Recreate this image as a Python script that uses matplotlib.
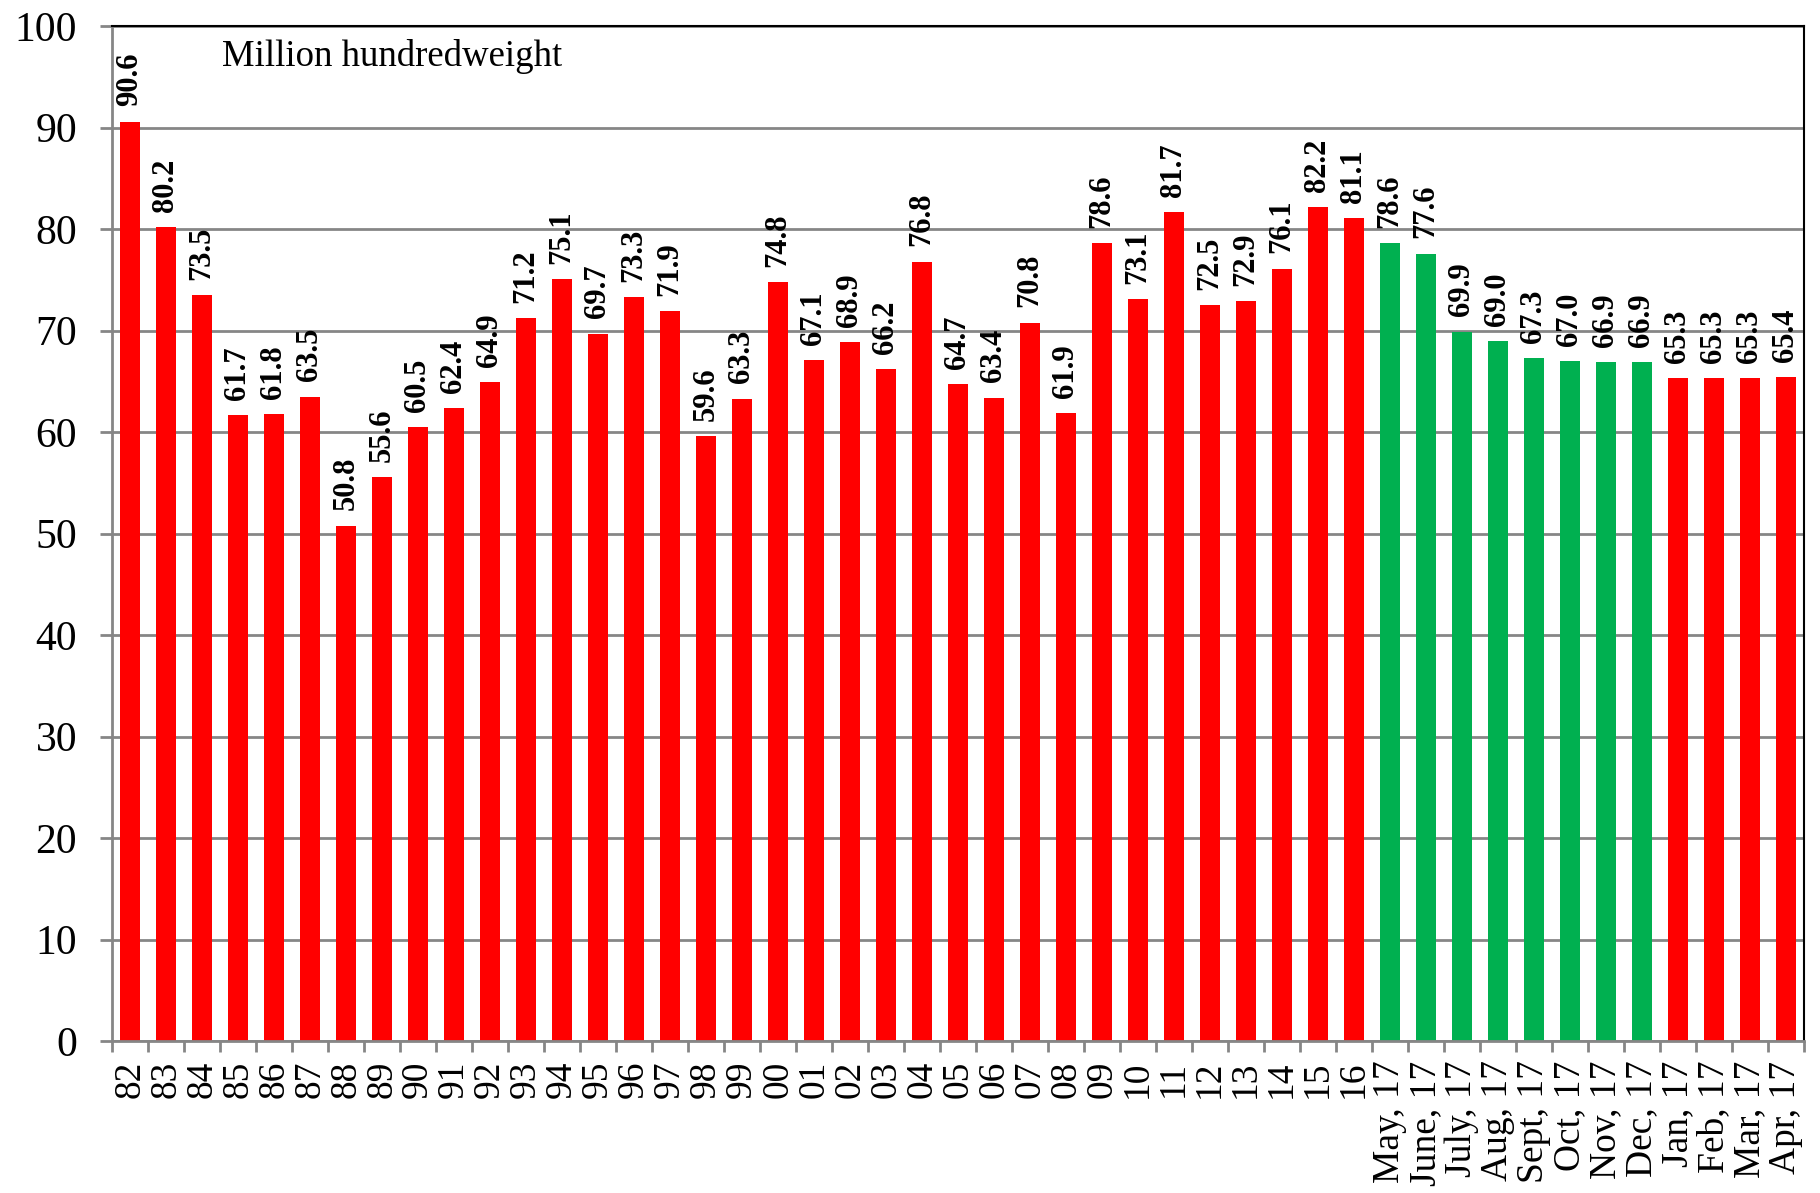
"""Bar chart of annual and monthly values, million hundredweight."""

import matplotlib
matplotlib.use("Agg")
import matplotlib.pyplot as plt
import numpy as np

years = ["82", "83", "84", "85", "86", "87", "88", "89", "90", "91", "92", "93",
         "94", "95", "96", "97", "98", "99", "00", "01", "02", "03", "04", "05",
         "06", "07", "08", "09", "10", "11", "12", "13", "14", "15", "16"]
year_values = [90.6, 80.2, 73.5, 61.7, 61.8, 63.5, 50.8, 55.6, 60.5, 62.4, 64.9, 71.2,
               75.1, 69.7, 73.3, 71.9, 59.6, 63.3, 74.8, 67.1, 68.9, 66.2, 76.8, 64.7,
               63.4, 70.8, 61.9, 78.6, 73.1, 81.7, 72.5, 72.9, 76.1, 82.2, 81.1]

months = ["May, 17", "June, 17", "July, 17", "Aug, 17", "Sept, 17", "Oct, 17",
          "Nov, 17", "Dec, 17", "Jan, 17", "Feb, 17", "Mar, 17", "Apr, 17"]
month_values = [78.6, 77.6, 69.9, 69.0, 67.3, 67.0, 66.9, 66.9, 65.3, 65.3, 65.3, 65.4]
month_colors = ["green"] * 8 + ["red"] * 4

RED = "#FF0000"
GREEN = "#00B050"
GRAY = "#868686"

plt.rcParams["font.family"] = ["Liberation Serif", "DejaVu Serif"]

labels = years + months
values = year_values + month_values
colors = [RED] * len(years) + [GREEN if c == "green" else RED for c in month_colors]
x = np.arange(len(labels))

fig = plt.figure(figsize=(18.2, 11.93), dpi=100)
ax = fig.add_axes([0.0615, 0.1274, 0.9297, 0.8506])

ax.set_axisbelow(True)
ax.yaxis.grid(True, color=GRAY, linewidth=2)
ax.bar(x, values, width=0.56, color=colors, zorder=2)

for xi, v in zip(x, values):
    ax.annotate(f"{v:.1f}", (xi, v), xytext=(0, 11), textcoords="offset points",
                rotation=90, ha="center", va="bottom", fontsize=22, fontweight="bold")

ax.set_xlim(-0.5, len(labels) - 0.5)
ax.set_ylim(0, 100)
ax.set_yticks(range(0, 101, 10))
ax.tick_params(axis="y", labelsize=30, length=9, width=2, color=GRAY, pad=16)

ax.set_xticks(x)
ax.set_xticklabels(labels, rotation=90, fontsize=27, va="top", ha="center")
ax.set_xticks(np.arange(-0.5, len(labels), 1), minor=True)
ax.tick_params(axis="x", which="major", length=0, pad=14)
ax.tick_params(axis="x", which="minor", length=8, width=2, color=GRAY)

for side in ("left", "bottom"):
    ax.spines[side].set_color(GRAY)
    ax.spines[side].set_linewidth(2)
for side in ("top", "right"):
    ax.spines[side].set_color("black")
    ax.spines[side].set_linewidth(1.5)

ax.text(0.065, 0.9606, "Million hundredweight", transform=ax.transAxes,
        fontsize=26.5, ha="left", va="baseline")

fig.savefig("out.png", dpi=100)
plt.close(fig)
